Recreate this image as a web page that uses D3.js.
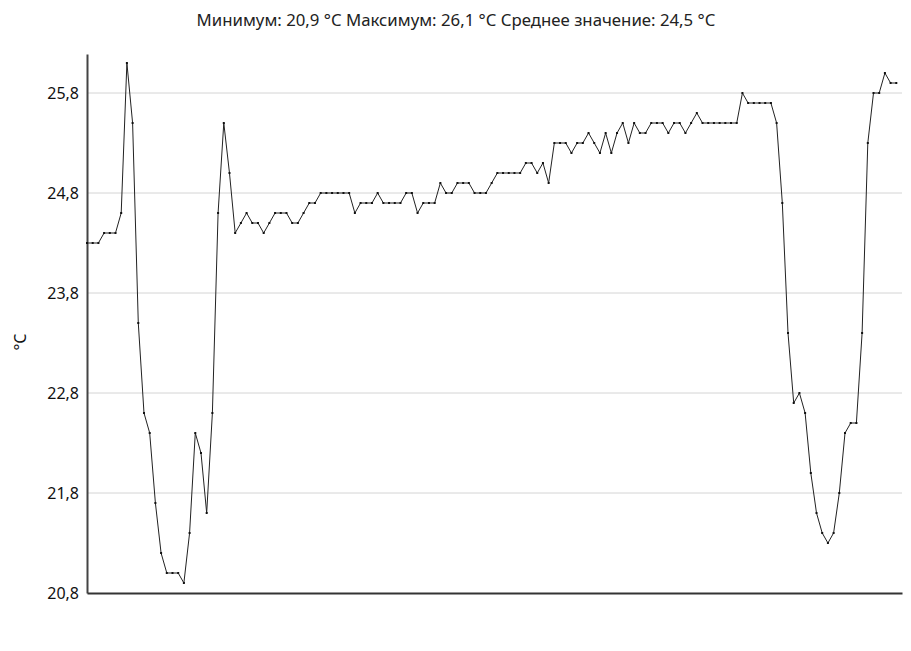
<!DOCTYPE html>
<html>
<head>
<meta charset="utf-8">
<script src="https://cdn.jsdelivr.net/npm/d3@7/dist/d3.min.js"></script>
<style>
  html, body { margin: 0; padding: 0; background: #fff; }
  text { font-family: "Noto Sans", "Open Sans", sans-serif; }
</style>
</head>
<body>
<svg id="chart" width="911" height="651"></svg>
<script>
const titleText = "Минимум: 20,9 °C Максимум: 26,1 °C Среднее значение: 24,5 °C";
const yLabel = "°C";
const yTicks = [20.8, 21.8, 22.8, 23.8, 24.8, 25.8];
const temperatures = [
  24.3, 24.3, 24.3, 24.4, 24.4, 24.4, 24.6, 26.1, 25.5, 23.5,
  22.6, 22.4, 21.7, 21.2, 21.0, 21.0, 21.0, 20.9, 21.4, 22.4,
  22.2, 21.6, 22.6, 24.6, 25.5, 25.0, 24.4, 24.5, 24.6, 24.5,
  24.5, 24.4, 24.5, 24.6, 24.6, 24.6, 24.5, 24.5, 24.6, 24.7,
  24.7, 24.8, 24.8, 24.8, 24.8, 24.8, 24.8, 24.6, 24.7, 24.7,
  24.7, 24.8, 24.7, 24.7, 24.7, 24.7, 24.8, 24.8, 24.6, 24.7,
  24.7, 24.7, 24.9, 24.8, 24.8, 24.9, 24.9, 24.9, 24.8, 24.8,
  24.8, 24.9, 25.0, 25.0, 25.0, 25.0, 25.0, 25.1, 25.1, 25.0,
  25.1, 24.9, 25.3, 25.3, 25.3, 25.2, 25.3, 25.3, 25.4, 25.3,
  25.2, 25.4, 25.2, 25.4, 25.5, 25.3, 25.5, 25.4, 25.4, 25.5,
  25.5, 25.5, 25.4, 25.5, 25.5, 25.4, 25.5, 25.6, 25.5, 25.5,
  25.5, 25.5, 25.5, 25.5, 25.5, 25.8, 25.7, 25.7, 25.7, 25.7,
  25.7, 25.5, 24.7, 23.4, 22.7, 22.8, 22.6, 22.0, 21.6, 21.4,
  21.3, 21.4, 21.8, 22.4, 22.5, 22.5, 23.4, 25.3, 25.8, 25.8,
  26.0, 25.9, 25.9
];

const svg = d3.select("#chart");
const mLeft = 87, mRight = 902, mTop = 54, mBottom = 593;

const x = d3.scaleLinear().domain([0, temperatures.length]).range([mLeft, mRight]);
const y = d3.scaleLinear().domain([20.8, 26.19]).range([mBottom, mTop]);

const fmt = v => d3.format(".1f")(v).replace(".", ",");

// gridlines
svg.append("g")
  .selectAll("line")
  .data(yTicks.slice(1))
  .join("line")
  .attr("x1", mLeft).attr("x2", mRight)
  .attr("y1", d => y(d)).attr("y2", d => y(d))
  .attr("stroke", "#d4d4d4").attr("stroke-width", 1);

// y axis
const yAxis = d3.axisLeft(y).tickValues(yTicks).tickFormat(fmt).tickSize(0).tickPadding(8);
const gy = svg.append("g").attr("transform", `translate(${mLeft},0)`).call(yAxis);
gy.select(".domain").attr("stroke", "#444").attr("stroke-width", 2);
gy.selectAll("text").attr("font-size", 16).attr("fill", "#111")
  .attr("font-family", "'Noto Sans', 'Open Sans', sans-serif");

// x axis (no ticks)
const xAxis = d3.axisBottom(x).tickValues([]).tickSize(0);
const gx = svg.append("g").attr("transform", `translate(0,${mBottom})`).call(xAxis);
gx.select(".domain").attr("stroke", "#333").attr("stroke-width", 2);

// line
const line = d3.line().x((d, i) => x(i)).y(d => y(d));
svg.append("path")
  .datum(temperatures)
  .attr("fill", "none")
  .attr("stroke", "#222")
  .attr("stroke-width", 1)
  .attr("d", line);

// markers
svg.append("g")
  .selectAll("rect")
  .data(temperatures)
  .join("rect")
  .attr("x", (d, i) => x(i) - 1)
  .attr("y", d => y(d) - 1)
  .attr("width", 2).attr("height", 2)
  .attr("fill", "#111");

// title
svg.append("text")
  .attr("x", 456).attr("y", 26)
  .attr("text-anchor", "middle")
  .attr("font-size", 16.8)
  .attr("fill", "#222")
  .text(titleText);

// y label
svg.append("text")
  .attr("transform", `translate(26,342) rotate(-90)`)
  .attr("text-anchor", "middle")
  .attr("font-size", 16)
  .attr("fill", "#111")
  .text(yLabel);
</script>
</body>
</html>
